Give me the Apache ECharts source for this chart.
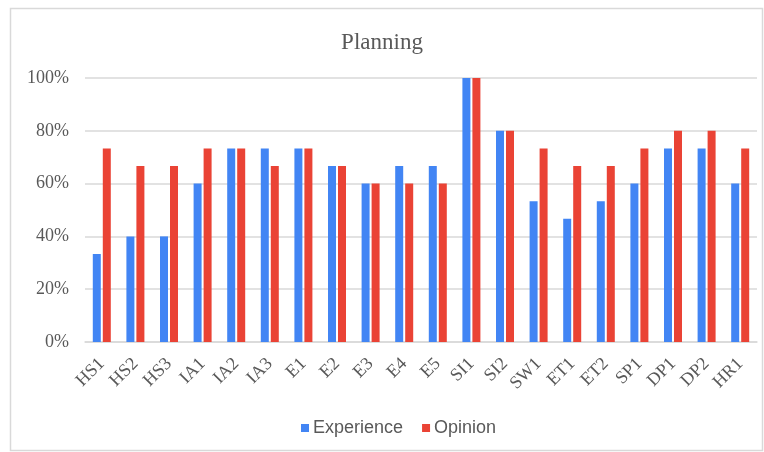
<!DOCTYPE html>
<html><head><meta charset="utf-8">
<script src="https://cdn.jsdelivr.net/npm/echarts@6/dist/echarts.min.js"></script>
<style>html,body{margin:0;padding:0;background:#fff}#c{width:764px;height:452px}</style>
</head><body><div id="c"></div>
<script>
var categories = ['HS1','HS2','HS3','IA1','IA2','IA3','E1','E2','E3','E4','E5','SI1','SI2','SW1','ET1','ET2','SP1','DP1','DP2','HR1'];
var experience = [33.3,40,40,60,73.3,73.3,73.3,66.7,60,66.7,66.7,100,80,53.3,46.7,53.3,60,73.3,73.3,60];
var opinion = [73.3,66.7,66.7,73.3,73.3,66.7,73.3,66.7,60,60,60,100,80,73.3,66.7,66.7,73.3,80,80,73.3];
var yTicks = [0,20,40,60,80,100];

var chart = echarts.init(document.getElementById('c'));
chart.setOption({
  animation:false,
  backgroundColor:'#fff',
  graphic:[{type:'rect',shape:{x:10.5,y:8.5,width:752,height:442},style:{fill:'none',stroke:'#d9d9d9',lineWidth:1.5},silent:true}],
  title:{text:'Planning',left:'center',top:26,textStyle:{fontFamily:'Liberation Serif',fontSize:23,fontWeight:'normal',color:'#595959'}},
  legend:{left:296,top:414,itemWidth:8,itemHeight:8,itemGap:19,icon:'rect',
    textStyle:{fontFamily:'Liberation Sans',fontSize:18,color:'#595959',padding:[0,0,0,-1]},
    data:['Experience','Opinion']},
  grid:{left:85,right:7,top:78,bottom:110,containLabel:false},
  xAxis:{type:'category',data:categories,
    axisLine:{lineStyle:{color:'#d9d9d9',width:1.5}},axisTick:{show:false},
    axisLabel:{rotate:45,fontFamily:'Liberation Serif',fontSize:18,color:'#595959',margin:19,interval:0}},
  yAxis:{type:'value',min:0,max:100,interval:20,
    axisLine:{show:false},axisTick:{show:false},
    splitLine:{lineStyle:{color:'#d9d9d9',width:1.5}},
    axisLabel:{formatter:function(v){return yTicks.indexOf(v)>=0? v+'%':'';},fontFamily:'Liberation Serif',fontSize:18,color:'#595959',margin:16}},
  series:[
    {name:'Experience',type:'bar',data:experience,barWidth:8,barGap:'25%',itemStyle:{color:'#4285F4'}},
    {name:'Opinion',type:'bar',data:opinion,barWidth:8,itemStyle:{color:'#EA4335'}}
  ]
});
</script></body></html>
